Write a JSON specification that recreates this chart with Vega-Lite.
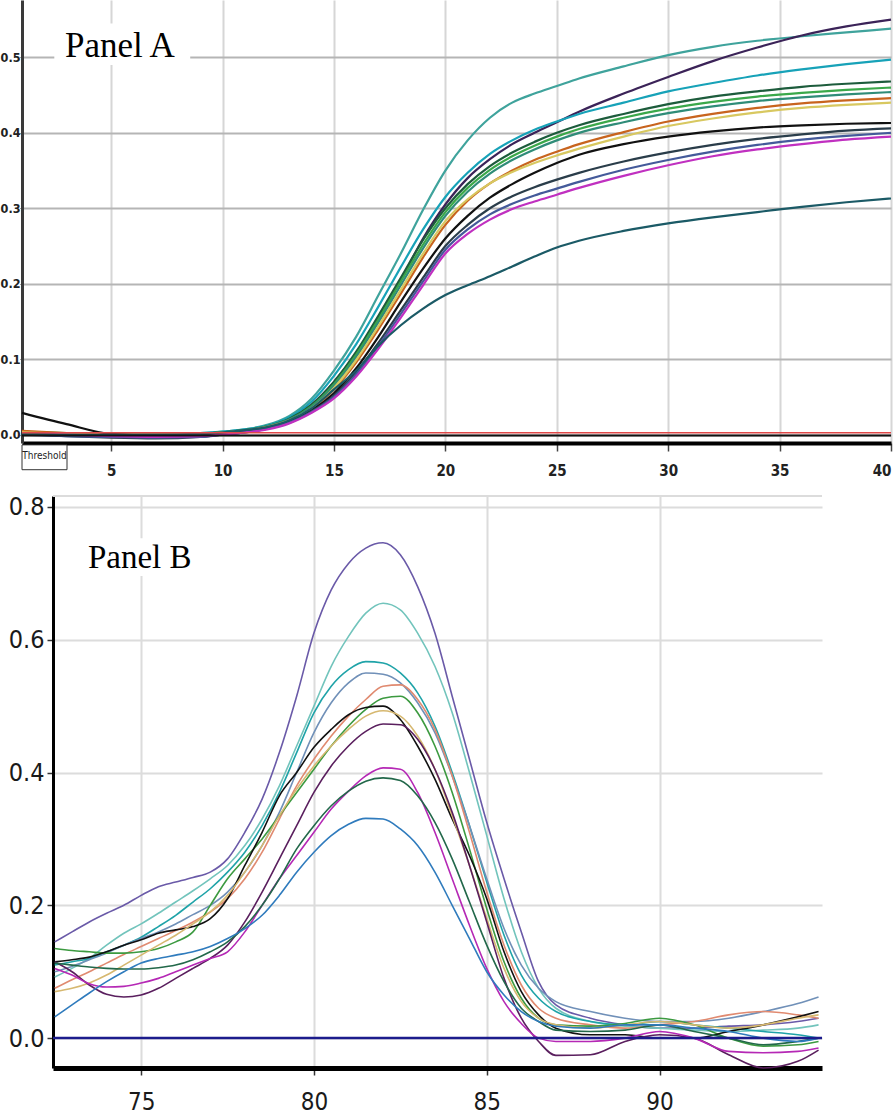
{
"$schema": "https://vega.github.io/schema/vega-lite/v6.json",
"width": 896,
"height": 1117,
"autosize": {"type": "none"},
"padding": 0,
"background": "white",
"config": {"view": {"stroke": null}},
"datasets": {
"one": [{}],
"a": [
{"s":"a1","c":1,"v":0.002},{"s":"a1","c":3,"v":0.001},{"s":"a1","c":5,"v":0},{"s":"a1","c":7,"v":0},{"s":"a1","c":9,"v":0.002},{"s":"a1","c":10,"v":0.004},{"s":"a1","c":11,"v":0.007},{"s":"a1","c":12,"v":0.013},{"s":"a1","c":13,"v":0.025},{"s":"a1","c":14,"v":0.048},{"s":"a1","c":15,"v":0.085},{"s":"a1","c":16,"v":0.13},{"s":"a1","c":17,"v":0.185},{"s":"a1","c":18,"v":0.24},{"s":"a1","c":19,"v":0.298},{"s":"a1","c":20,"v":0.35},{"s":"a1","c":21,"v":0.39},{"s":"a1","c":22,"v":0.42},{"s":"a1","c":23,"v":0.44},{"s":"a1","c":24,"v":0.452},{"s":"a1","c":25,"v":0.462},{"s":"a1","c":26,"v":0.472},{"s":"a1","c":28,"v":0.488},{"s":"a1","c":30,"v":0.503},{"s":"a1","c":32,"v":0.514},{"s":"a1","c":34,"v":0.522},{"s":"a1","c":36,"v":0.528},{"s":"a1","c":38,"v":0.533},{"s":"a1","c":40,"v":0.538},
{"s":"a2","c":1,"v":0},{"s":"a2","c":3,"v":0},{"s":"a2","c":5,"v":-0.002},{"s":"a2","c":7,"v":-0.002},{"s":"a2","c":9,"v":0},{"s":"a2","c":10,"v":0.002},{"s":"a2","c":11,"v":0.005},{"s":"a2","c":12,"v":0.01},{"s":"a2","c":13,"v":0.02},{"s":"a2","c":14,"v":0.04},{"s":"a2","c":15,"v":0.07},{"s":"a2","c":16,"v":0.108},{"s":"a2","c":17,"v":0.155},{"s":"a2","c":18,"v":0.205},{"s":"a2","c":19,"v":0.26},{"s":"a2","c":20,"v":0.305},{"s":"a2","c":21,"v":0.34},{"s":"a2","c":22,"v":0.365},{"s":"a2","c":23,"v":0.385},{"s":"a2","c":24,"v":0.4},{"s":"a2","c":25,"v":0.414},{"s":"a2","c":26,"v":0.428},{"s":"a2","c":28,"v":0.452},{"s":"a2","c":30,"v":0.474},{"s":"a2","c":32,"v":0.495},{"s":"a2","c":34,"v":0.513},{"s":"a2","c":36,"v":0.529},{"s":"a2","c":38,"v":0.541},{"s":"a2","c":40,"v":0.55},
{"s":"a3","c":1,"v":0.001},{"s":"a3","c":3,"v":0},{"s":"a3","c":5,"v":0},{"s":"a3","c":7,"v":0.001},{"s":"a3","c":9,"v":0.002},{"s":"a3","c":10,"v":0.004},{"s":"a3","c":11,"v":0.007},{"s":"a3","c":12,"v":0.012},{"s":"a3","c":13,"v":0.023},{"s":"a3","c":14,"v":0.044},{"s":"a3","c":15,"v":0.078},{"s":"a3","c":16,"v":0.12},{"s":"a3","c":17,"v":0.17},{"s":"a3","c":18,"v":0.222},{"s":"a3","c":19,"v":0.272},{"s":"a3","c":20,"v":0.315},{"s":"a3","c":21,"v":0.347},{"s":"a3","c":22,"v":0.372},{"s":"a3","c":23,"v":0.39},{"s":"a3","c":24,"v":0.404},{"s":"a3","c":25,"v":0.415},{"s":"a3","c":26,"v":0.425},{"s":"a3","c":28,"v":0.44},{"s":"a3","c":30,"v":0.455},{"s":"a3","c":32,"v":0.466},{"s":"a3","c":34,"v":0.476},{"s":"a3","c":36,"v":0.484},{"s":"a3","c":38,"v":0.491},{"s":"a3","c":40,"v":0.497},
{"s":"a4","c":1,"v":0.003},{"s":"a4","c":3,"v":0.001},{"s":"a4","c":5,"v":0},{"s":"a4","c":7,"v":-0.001},{"s":"a4","c":9,"v":0.001},{"s":"a4","c":10,"v":0.003},{"s":"a4","c":11,"v":0.006},{"s":"a4","c":12,"v":0.011},{"s":"a4","c":13,"v":0.021},{"s":"a4","c":14,"v":0.04},{"s":"a4","c":15,"v":0.07},{"s":"a4","c":16,"v":0.11},{"s":"a4","c":17,"v":0.158},{"s":"a4","c":18,"v":0.208},{"s":"a4","c":19,"v":0.258},{"s":"a4","c":20,"v":0.3},{"s":"a4","c":21,"v":0.332},{"s":"a4","c":22,"v":0.356},{"s":"a4","c":23,"v":0.374},{"s":"a4","c":24,"v":0.388},{"s":"a4","c":25,"v":0.4},{"s":"a4","c":26,"v":0.41},{"s":"a4","c":28,"v":0.425},{"s":"a4","c":30,"v":0.438},{"s":"a4","c":32,"v":0.448},{"s":"a4","c":34,"v":0.455},{"s":"a4","c":36,"v":0.461},{"s":"a4","c":38,"v":0.465},{"s":"a4","c":40,"v":0.468},
{"s":"a5","c":1,"v":0.004},{"s":"a5","c":3,"v":0.002},{"s":"a5","c":5,"v":0},{"s":"a5","c":7,"v":0},{"s":"a5","c":9,"v":0.001},{"s":"a5","c":10,"v":0.003},{"s":"a5","c":11,"v":0.006},{"s":"a5","c":12,"v":0.011},{"s":"a5","c":13,"v":0.02},{"s":"a5","c":14,"v":0.038},{"s":"a5","c":15,"v":0.067},{"s":"a5","c":16,"v":0.106},{"s":"a5","c":17,"v":0.153},{"s":"a5","c":18,"v":0.203},{"s":"a5","c":19,"v":0.252},{"s":"a5","c":20,"v":0.295},{"s":"a5","c":21,"v":0.327},{"s":"a5","c":22,"v":0.351},{"s":"a5","c":23,"v":0.369},{"s":"a5","c":24,"v":0.383},{"s":"a5","c":25,"v":0.395},{"s":"a5","c":26,"v":0.405},{"s":"a5","c":28,"v":0.42},{"s":"a5","c":30,"v":0.432},{"s":"a5","c":32,"v":0.441},{"s":"a5","c":34,"v":0.448},{"s":"a5","c":36,"v":0.453},{"s":"a5","c":38,"v":0.457},{"s":"a5","c":40,"v":0.46},
{"s":"a6","c":1,"v":0.002},{"s":"a6","c":3,"v":0.001},{"s":"a6","c":5,"v":-0.001},{"s":"a6","c":7,"v":-0.001},{"s":"a6","c":9,"v":0.001},{"s":"a6","c":10,"v":0.003},{"s":"a6","c":11,"v":0.006},{"s":"a6","c":12,"v":0.011},{"s":"a6","c":13,"v":0.02},{"s":"a6","c":14,"v":0.037},{"s":"a6","c":15,"v":0.065},{"s":"a6","c":16,"v":0.103},{"s":"a6","c":17,"v":0.149},{"s":"a6","c":18,"v":0.198},{"s":"a6","c":19,"v":0.247},{"s":"a6","c":20,"v":0.29},{"s":"a6","c":21,"v":0.322},{"s":"a6","c":22,"v":0.346},{"s":"a6","c":23,"v":0.364},{"s":"a6","c":24,"v":0.378},{"s":"a6","c":25,"v":0.39},{"s":"a6","c":26,"v":0.4},{"s":"a6","c":28,"v":0.414},{"s":"a6","c":30,"v":0.426},{"s":"a6","c":32,"v":0.435},{"s":"a6","c":34,"v":0.442},{"s":"a6","c":36,"v":0.447},{"s":"a6","c":38,"v":0.451},{"s":"a6","c":40,"v":0.454},
{"s":"a7","c":1,"v":0.005},{"s":"a7","c":3,"v":0.002},{"s":"a7","c":5,"v":0},{"s":"a7","c":7,"v":-0.001},{"s":"a7","c":9,"v":0},{"s":"a7","c":10,"v":0.002},{"s":"a7","c":11,"v":0.005},{"s":"a7","c":12,"v":0.01},{"s":"a7","c":13,"v":0.018},{"s":"a7","c":14,"v":0.034},{"s":"a7","c":15,"v":0.06},{"s":"a7","c":16,"v":0.096},{"s":"a7","c":17,"v":0.14},{"s":"a7","c":18,"v":0.187},{"s":"a7","c":19,"v":0.235},{"s":"a7","c":20,"v":0.278},{"s":"a7","c":21,"v":0.31},{"s":"a7","c":22,"v":0.333},{"s":"a7","c":23,"v":0.35},{"s":"a7","c":24,"v":0.364},{"s":"a7","c":25,"v":0.375},{"s":"a7","c":26,"v":0.385},{"s":"a7","c":28,"v":0.401},{"s":"a7","c":30,"v":0.415},{"s":"a7","c":32,"v":0.425},{"s":"a7","c":34,"v":0.433},{"s":"a7","c":36,"v":0.439},{"s":"a7","c":38,"v":0.443},{"s":"a7","c":40,"v":0.446},
{"s":"a8","c":1,"v":0.003},{"s":"a8","c":3,"v":0.001},{"s":"a8","c":5,"v":0},{"s":"a8","c":7,"v":0},{"s":"a8","c":9,"v":0.001},{"s":"a8","c":10,"v":0.003},{"s":"a8","c":11,"v":0.005},{"s":"a8","c":12,"v":0.01},{"s":"a8","c":13,"v":0.019},{"s":"a8","c":14,"v":0.035},{"s":"a8","c":15,"v":0.062},{"s":"a8","c":16,"v":0.099},{"s":"a8","c":17,"v":0.144},{"s":"a8","c":18,"v":0.192},{"s":"a8","c":19,"v":0.24},{"s":"a8","c":20,"v":0.283},{"s":"a8","c":21,"v":0.312},{"s":"a8","c":22,"v":0.333},{"s":"a8","c":23,"v":0.348},{"s":"a8","c":24,"v":0.36},{"s":"a8","c":25,"v":0.37},{"s":"a8","c":26,"v":0.379},{"s":"a8","c":28,"v":0.395},{"s":"a8","c":30,"v":0.409},{"s":"a8","c":32,"v":0.419},{"s":"a8","c":34,"v":0.427},{"s":"a8","c":36,"v":0.433},{"s":"a8","c":38,"v":0.437},{"s":"a8","c":40,"v":0.44},
{"s":"a9","c":1,"v":0.029},{"s":"a9","c":3,"v":0.014},{"s":"a9","c":5,"v":0.001},{"s":"a9","c":7,"v":-0.001},{"s":"a9","c":9,"v":0},{"s":"a9","c":10,"v":0.002},{"s":"a9","c":11,"v":0.004},{"s":"a9","c":12,"v":0.008},{"s":"a9","c":13,"v":0.017},{"s":"a9","c":14,"v":0.032},{"s":"a9","c":15,"v":0.055},{"s":"a9","c":16,"v":0.088},{"s":"a9","c":17,"v":0.13},{"s":"a9","c":18,"v":0.176},{"s":"a9","c":19,"v":0.22},{"s":"a9","c":20,"v":0.26},{"s":"a9","c":21,"v":0.29},{"s":"a9","c":22,"v":0.314},{"s":"a9","c":23,"v":0.332},{"s":"a9","c":24,"v":0.347},{"s":"a9","c":25,"v":0.36},{"s":"a9","c":26,"v":0.371},{"s":"a9","c":28,"v":0.385},{"s":"a9","c":30,"v":0.395},{"s":"a9","c":32,"v":0.402},{"s":"a9","c":34,"v":0.407},{"s":"a9","c":36,"v":0.41},{"s":"a9","c":38,"v":0.412},{"s":"a9","c":40,"v":0.413},
{"s":"a10","c":1,"v":0.001},{"s":"a10","c":3,"v":-0.002},{"s":"a10","c":5,"v":-0.004},{"s":"a10","c":7,"v":-0.005},{"s":"a10","c":9,"v":-0.003},{"s":"a10","c":10,"v":0},{"s":"a10","c":11,"v":0.003},{"s":"a10","c":12,"v":0.008},{"s":"a10","c":13,"v":0.016},{"s":"a10","c":14,"v":0.031},{"s":"a10","c":15,"v":0.052},{"s":"a10","c":16,"v":0.083},{"s":"a10","c":17,"v":0.122},{"s":"a10","c":18,"v":0.165},{"s":"a10","c":19,"v":0.208},{"s":"a10","c":20,"v":0.25},{"s":"a10","c":21,"v":0.278},{"s":"a10","c":22,"v":0.3},{"s":"a10","c":23,"v":0.316},{"s":"a10","c":24,"v":0.328},{"s":"a10","c":25,"v":0.338},{"s":"a10","c":26,"v":0.347},{"s":"a10","c":28,"v":0.362},{"s":"a10","c":30,"v":0.374},{"s":"a10","c":32,"v":0.384},{"s":"a10","c":34,"v":0.392},{"s":"a10","c":36,"v":0.398},{"s":"a10","c":38,"v":0.403},{"s":"a10","c":40,"v":0.406},
{"s":"a11","c":1,"v":0},{"s":"a11","c":3,"v":-0.002},{"s":"a11","c":5,"v":-0.003},{"s":"a11","c":7,"v":-0.004},{"s":"a11","c":9,"v":-0.003},{"s":"a11","c":10,"v":0},{"s":"a11","c":11,"v":0.003},{"s":"a11","c":12,"v":0.008},{"s":"a11","c":13,"v":0.016},{"s":"a11","c":14,"v":0.03},{"s":"a11","c":15,"v":0.05},{"s":"a11","c":16,"v":0.08},{"s":"a11","c":17,"v":0.118},{"s":"a11","c":18,"v":0.16},{"s":"a11","c":19,"v":0.203},{"s":"a11","c":20,"v":0.245},{"s":"a11","c":21,"v":0.272},{"s":"a11","c":22,"v":0.292},{"s":"a11","c":23,"v":0.306},{"s":"a11","c":24,"v":0.317},{"s":"a11","c":25,"v":0.326},{"s":"a11","c":26,"v":0.335},{"s":"a11","c":28,"v":0.351},{"s":"a11","c":30,"v":0.364},{"s":"a11","c":32,"v":0.375},{"s":"a11","c":34,"v":0.384},{"s":"a11","c":36,"v":0.391},{"s":"a11","c":38,"v":0.396},{"s":"a11","c":40,"v":0.4},
{"s":"a12","c":1,"v":0.002},{"s":"a12","c":3,"v":0},{"s":"a12","c":5,"v":-0.002},{"s":"a12","c":7,"v":-0.003},{"s":"a12","c":9,"v":-0.002},{"s":"a12","c":10,"v":0},{"s":"a12","c":11,"v":0.003},{"s":"a12","c":12,"v":0.007},{"s":"a12","c":13,"v":0.015},{"s":"a12","c":14,"v":0.029},{"s":"a12","c":15,"v":0.048},{"s":"a12","c":16,"v":0.077},{"s":"a12","c":17,"v":0.114},{"s":"a12","c":18,"v":0.155},{"s":"a12","c":19,"v":0.198},{"s":"a12","c":20,"v":0.24},{"s":"a12","c":21,"v":0.266},{"s":"a12","c":22,"v":0.285},{"s":"a12","c":23,"v":0.299},{"s":"a12","c":24,"v":0.309},{"s":"a12","c":25,"v":0.318},{"s":"a12","c":26,"v":0.327},{"s":"a12","c":28,"v":0.343},{"s":"a12","c":30,"v":0.357},{"s":"a12","c":32,"v":0.369},{"s":"a12","c":34,"v":0.378},{"s":"a12","c":36,"v":0.385},{"s":"a12","c":38,"v":0.391},{"s":"a12","c":40,"v":0.395},
{"s":"a13","c":1,"v":0.001},{"s":"a13","c":3,"v":0},{"s":"a13","c":5,"v":0},{"s":"a13","c":7,"v":0},{"s":"a13","c":9,"v":0.001},{"s":"a13","c":10,"v":0.003},{"s":"a13","c":11,"v":0.006},{"s":"a13","c":12,"v":0.01},{"s":"a13","c":13,"v":0.019},{"s":"a13","c":14,"v":0.035},{"s":"a13","c":15,"v":0.06},{"s":"a13","c":16,"v":0.085},{"s":"a13","c":17,"v":0.118},{"s":"a13","c":18,"v":0.145},{"s":"a13","c":19,"v":0.167},{"s":"a13","c":20,"v":0.185},{"s":"a13","c":21,"v":0.198},{"s":"a13","c":22,"v":0.21},{"s":"a13","c":23,"v":0.223},{"s":"a13","c":24,"v":0.236},{"s":"a13","c":25,"v":0.248},{"s":"a13","c":26,"v":0.257},{"s":"a13","c":28,"v":0.27},{"s":"a13","c":30,"v":0.28},{"s":"a13","c":32,"v":0.288},{"s":"a13","c":34,"v":0.295},{"s":"a13","c":36,"v":0.302},{"s":"a13","c":38,"v":0.308},{"s":"a13","c":40,"v":0.313}
],
"b": [
{"s":"b1","t":72.5,"v":0.145},{"s":"b1","t":73,"v":0.16},{"s":"b1","t":73.5,"v":0.175},{"s":"b1","t":74,"v":0.188},{"s":"b1","t":74.5,"v":0.2},{"s":"b1","t":75,"v":0.215},{"s":"b1","t":75.5,"v":0.228},{"s":"b1","t":76,"v":0.235},{"s":"b1","t":76.5,"v":0.242},{"s":"b1","t":77,"v":0.25},{"s":"b1","t":77.5,"v":0.27},{"s":"b1","t":78,"v":0.31},{"s":"b1","t":78.5,"v":0.36},{"s":"b1","t":79,"v":0.43},{"s":"b1","t":79.5,"v":0.515},{"s":"b1","t":80,"v":0.61},{"s":"b1","t":80.5,"v":0.675},{"s":"b1","t":81,"v":0.715},{"s":"b1","t":81.5,"v":0.738},{"s":"b1","t":82,"v":0.746},{"s":"b1","t":82.5,"v":0.728},{"s":"b1","t":83,"v":0.68},{"s":"b1","t":83.5,"v":0.61},{"s":"b1","t":84,"v":0.515},{"s":"b1","t":84.5,"v":0.42},{"s":"b1","t":85,"v":0.325},{"s":"b1","t":85.5,"v":0.24},{"s":"b1","t":86,"v":0.16},{"s":"b1","t":86.5,"v":0.085},{"s":"b1","t":87,"v":0.05},{"s":"b1","t":88,"v":0.03},{"s":"b1","t":89,"v":0.02},{"s":"b1","t":90,"v":0.015},{"s":"b1","t":91,"v":0.015},{"s":"b1","t":92,"v":0.018},{"s":"b1","t":93,"v":0.02},{"s":"b1","t":94,"v":0.025},{"s":"b1","t":94.6,"v":0.03},
{"s":"b2","t":72.5,"v":0.092},{"s":"b2","t":73,"v":0.105},{"s":"b2","t":73.5,"v":0.12},{"s":"b2","t":74,"v":0.14},{"s":"b2","t":74.5,"v":0.158},{"s":"b2","t":75,"v":0.172},{"s":"b2","t":75.5,"v":0.188},{"s":"b2","t":76,"v":0.205},{"s":"b2","t":76.5,"v":0.222},{"s":"b2","t":77,"v":0.24},{"s":"b2","t":77.5,"v":0.26},{"s":"b2","t":78,"v":0.29},{"s":"b2","t":78.5,"v":0.33},{"s":"b2","t":79,"v":0.38},{"s":"b2","t":79.5,"v":0.44},{"s":"b2","t":80,"v":0.5},{"s":"b2","t":80.5,"v":0.56},{"s":"b2","t":81,"v":0.605},{"s":"b2","t":81.5,"v":0.64},{"s":"b2","t":82,"v":0.655},{"s":"b2","t":82.5,"v":0.645},{"s":"b2","t":83,"v":0.61},{"s":"b2","t":83.5,"v":0.56},{"s":"b2","t":84,"v":0.49},{"s":"b2","t":84.5,"v":0.4},{"s":"b2","t":85,"v":0.305},{"s":"b2","t":85.5,"v":0.21},{"s":"b2","t":86,"v":0.13},{"s":"b2","t":86.5,"v":0.075},{"s":"b2","t":87,"v":0.045},{"s":"b2","t":88,"v":0.025},{"s":"b2","t":89,"v":0.018},{"s":"b2","t":90,"v":0.015},{"s":"b2","t":91,"v":0.012},{"s":"b2","t":92,"v":0.01},{"s":"b2","t":93,"v":0.012},{"s":"b2","t":94,"v":0.015},{"s":"b2","t":94.6,"v":0.02},
{"s":"b3","t":72.5,"v":0.11},{"s":"b3","t":73,"v":0.115},{"s":"b3","t":73.5,"v":0.12},{"s":"b3","t":74,"v":0.13},{"s":"b3","t":74.5,"v":0.14},{"s":"b3","t":75,"v":0.152},{"s":"b3","t":75.5,"v":0.168},{"s":"b3","t":76,"v":0.185},{"s":"b3","t":76.5,"v":0.205},{"s":"b3","t":77,"v":0.225},{"s":"b3","t":77.5,"v":0.25},{"s":"b3","t":78,"v":0.28},{"s":"b3","t":78.5,"v":0.32},{"s":"b3","t":79,"v":0.37},{"s":"b3","t":79.5,"v":0.43},{"s":"b3","t":80,"v":0.49},{"s":"b3","t":80.5,"v":0.53},{"s":"b3","t":81,"v":0.555},{"s":"b3","t":81.5,"v":0.567},{"s":"b3","t":82,"v":0.565},{"s":"b3","t":82.5,"v":0.55},{"s":"b3","t":83,"v":0.52},{"s":"b3","t":83.5,"v":0.47},{"s":"b3","t":84,"v":0.4},{"s":"b3","t":84.5,"v":0.32},{"s":"b3","t":85,"v":0.235},{"s":"b3","t":85.5,"v":0.155},{"s":"b3","t":86,"v":0.095},{"s":"b3","t":86.5,"v":0.06},{"s":"b3","t":87,"v":0.04},{"s":"b3","t":88,"v":0.025},{"s":"b3","t":89,"v":0.02},{"s":"b3","t":90,"v":0.025},{"s":"b3","t":91,"v":0.02},{"s":"b3","t":92,"v":0.015},{"s":"b3","t":93,"v":0.01},{"s":"b3","t":94,"v":0.005},{"s":"b3","t":94.6,"v":0},
{"s":"b4","t":72.5,"v":0.1},{"s":"b4","t":73,"v":0.108},{"s":"b4","t":73.5,"v":0.118},{"s":"b4","t":74,"v":0.128},{"s":"b4","t":74.5,"v":0.14},{"s":"b4","t":75,"v":0.15},{"s":"b4","t":75.5,"v":0.16},{"s":"b4","t":76,"v":0.172},{"s":"b4","t":76.5,"v":0.186},{"s":"b4","t":77,"v":0.2},{"s":"b4","t":77.5,"v":0.22},{"s":"b4","t":78,"v":0.25},{"s":"b4","t":78.5,"v":0.29},{"s":"b4","t":79,"v":0.34},{"s":"b4","t":79.5,"v":0.4},{"s":"b4","t":80,"v":0.46},{"s":"b4","t":80.5,"v":0.505},{"s":"b4","t":81,"v":0.535},{"s":"b4","t":81.5,"v":0.55},{"s":"b4","t":82,"v":0.548},{"s":"b4","t":82.5,"v":0.535},{"s":"b4","t":83,"v":0.505},{"s":"b4","t":83.5,"v":0.46},{"s":"b4","t":84,"v":0.395},{"s":"b4","t":84.5,"v":0.32},{"s":"b4","t":85,"v":0.24},{"s":"b4","t":85.5,"v":0.165},{"s":"b4","t":86,"v":0.11},{"s":"b4","t":86.5,"v":0.075},{"s":"b4","t":87,"v":0.055},{"s":"b4","t":88,"v":0.04},{"s":"b4","t":89,"v":0.03},{"s":"b4","t":90,"v":0.025},{"s":"b4","t":91,"v":0.025},{"s":"b4","t":92,"v":0.03},{"s":"b4","t":93,"v":0.04},{"s":"b4","t":94,"v":0.052},{"s":"b4","t":94.6,"v":0.062},
{"s":"b5","t":72.5,"v":0.075},{"s":"b5","t":73,"v":0.088},{"s":"b5","t":73.5,"v":0.1},{"s":"b5","t":74,"v":0.113},{"s":"b5","t":74.5,"v":0.126},{"s":"b5","t":75,"v":0.138},{"s":"b5","t":75.5,"v":0.15},{"s":"b5","t":76,"v":0.162},{"s":"b5","t":76.5,"v":0.175},{"s":"b5","t":77,"v":0.19},{"s":"b5","t":77.5,"v":0.21},{"s":"b5","t":78,"v":0.24},{"s":"b5","t":78.5,"v":0.28},{"s":"b5","t":79,"v":0.33},{"s":"b5","t":79.5,"v":0.38},{"s":"b5","t":80,"v":0.42},{"s":"b5","t":80.5,"v":0.455},{"s":"b5","t":81,"v":0.485},{"s":"b5","t":81.5,"v":0.51},{"s":"b5","t":82,"v":0.53},{"s":"b5","t":82.5,"v":0.532},{"s":"b5","t":83,"v":0.51},{"s":"b5","t":83.5,"v":0.465},{"s":"b5","t":84,"v":0.395},{"s":"b5","t":84.5,"v":0.31},{"s":"b5","t":85,"v":0.22},{"s":"b5","t":85.5,"v":0.14},{"s":"b5","t":86,"v":0.08},{"s":"b5","t":86.5,"v":0.045},{"s":"b5","t":87,"v":0.03},{"s":"b5","t":88,"v":0.02},{"s":"b5","t":89,"v":0.015},{"s":"b5","t":90,"v":0.02},{"s":"b5","t":91,"v":0.025},{"s":"b5","t":92,"v":0.035},{"s":"b5","t":93,"v":0.04},{"s":"b5","t":94,"v":0.035},{"s":"b5","t":94.6,"v":0.03},
{"s":"b6","t":72.5,"v":0.135},{"s":"b6","t":73,"v":0.132},{"s":"b6","t":73.5,"v":0.13},{"s":"b6","t":74,"v":0.128},{"s":"b6","t":74.5,"v":0.128},{"s":"b6","t":75,"v":0.13},{"s":"b6","t":75.5,"v":0.135},{"s":"b6","t":76,"v":0.145},{"s":"b6","t":76.5,"v":0.16},{"s":"b6","t":77,"v":0.2},{"s":"b6","t":77.5,"v":0.24},{"s":"b6","t":78,"v":0.27},{"s":"b6","t":78.5,"v":0.3},{"s":"b6","t":79,"v":0.335},{"s":"b6","t":79.5,"v":0.37},{"s":"b6","t":80,"v":0.405},{"s":"b6","t":80.5,"v":0.44},{"s":"b6","t":81,"v":0.47},{"s":"b6","t":81.5,"v":0.495},{"s":"b6","t":82,"v":0.512},{"s":"b6","t":82.5,"v":0.515},{"s":"b6","t":83,"v":0.49},{"s":"b6","t":83.5,"v":0.44},{"s":"b6","t":84,"v":0.37},{"s":"b6","t":84.5,"v":0.285},{"s":"b6","t":85,"v":0.195},{"s":"b6","t":85.5,"v":0.115},{"s":"b6","t":86,"v":0.06},{"s":"b6","t":86.5,"v":0.03},{"s":"b6","t":87,"v":0.02},{"s":"b6","t":88,"v":0.018},{"s":"b6","t":89,"v":0.022},{"s":"b6","t":90,"v":0.03},{"s":"b6","t":91,"v":0.02},{"s":"b6","t":92,"v":0},{"s":"b6","t":93,"v":-0.012},{"s":"b6","t":94,"v":-0.01},{"s":"b6","t":94.6,"v":-0.005},
{"s":"b7","t":72.5,"v":0.115},{"s":"b7","t":73,"v":0.118},{"s":"b7","t":73.5,"v":0.122},{"s":"b7","t":74,"v":0.13},{"s":"b7","t":74.5,"v":0.14},{"s":"b7","t":75,"v":0.148},{"s":"b7","t":75.5,"v":0.158},{"s":"b7","t":76,"v":0.163},{"s":"b7","t":76.5,"v":0.168},{"s":"b7","t":77,"v":0.18},{"s":"b7","t":77.5,"v":0.21},{"s":"b7","t":78,"v":0.26},{"s":"b7","t":78.5,"v":0.31},{"s":"b7","t":79,"v":0.365},{"s":"b7","t":79.5,"v":0.4},{"s":"b7","t":80,"v":0.438},{"s":"b7","t":80.5,"v":0.465},{"s":"b7","t":81,"v":0.487},{"s":"b7","t":81.5,"v":0.498},{"s":"b7","t":82,"v":0.5},{"s":"b7","t":82.5,"v":0.48},{"s":"b7","t":83,"v":0.44},{"s":"b7","t":83.5,"v":0.39},{"s":"b7","t":84,"v":0.33},{"s":"b7","t":84.5,"v":0.275},{"s":"b7","t":85,"v":0.21},{"s":"b7","t":85.5,"v":0.13},{"s":"b7","t":86,"v":0.07},{"s":"b7","t":86.5,"v":0.035},{"s":"b7","t":87,"v":0.015},{"s":"b7","t":88,"v":0.005},{"s":"b7","t":89,"v":0.005},{"s":"b7","t":90,"v":0},{"s":"b7","t":91,"v":0},{"s":"b7","t":92,"v":0.01},{"s":"b7","t":93,"v":0.02},{"s":"b7","t":94,"v":0.032},{"s":"b7","t":94.6,"v":0.04},
{"s":"b8","t":72.5,"v":0.07},{"s":"b8","t":73,"v":0.075},{"s":"b8","t":73.5,"v":0.083},{"s":"b8","t":74,"v":0.095},{"s":"b8","t":74.5,"v":0.11},{"s":"b8","t":75,"v":0.125},{"s":"b8","t":75.5,"v":0.14},{"s":"b8","t":76,"v":0.155},{"s":"b8","t":76.5,"v":0.172},{"s":"b8","t":77,"v":0.19},{"s":"b8","t":77.5,"v":0.215},{"s":"b8","t":78,"v":0.25},{"s":"b8","t":78.5,"v":0.29},{"s":"b8","t":79,"v":0.335},{"s":"b8","t":79.5,"v":0.375},{"s":"b8","t":80,"v":0.41},{"s":"b8","t":80.5,"v":0.44},{"s":"b8","t":81,"v":0.465},{"s":"b8","t":81.5,"v":0.485},{"s":"b8","t":82,"v":0.493},{"s":"b8","t":82.5,"v":0.485},{"s":"b8","t":83,"v":0.455},{"s":"b8","t":83.5,"v":0.405},{"s":"b8","t":84,"v":0.335},{"s":"b8","t":84.5,"v":0.26},{"s":"b8","t":85,"v":0.18},{"s":"b8","t":85.5,"v":0.105},{"s":"b8","t":86,"v":0.055},{"s":"b8","t":86.5,"v":0.03},{"s":"b8","t":87,"v":0.02},{"s":"b8","t":88,"v":0.015},{"s":"b8","t":89,"v":0.02},{"s":"b8","t":90,"v":0.025},{"s":"b8","t":91,"v":0.02},{"s":"b8","t":92,"v":0.015},{"s":"b8","t":93,"v":0.02},{"s":"b8","t":94,"v":0.03},{"s":"b8","t":94.6,"v":0.035},
{"s":"b9","t":72.5,"v":0.115},{"s":"b9","t":73,"v":0.1},{"s":"b9","t":73.5,"v":0.08},{"s":"b9","t":74,"v":0.066},{"s":"b9","t":74.5,"v":0.062},{"s":"b9","t":75,"v":0.065},{"s":"b9","t":75.5,"v":0.075},{"s":"b9","t":76,"v":0.09},{"s":"b9","t":76.5,"v":0.105},{"s":"b9","t":77,"v":0.12},{"s":"b9","t":77.5,"v":0.14},{"s":"b9","t":78,"v":0.175},{"s":"b9","t":78.5,"v":0.22},{"s":"b9","t":79,"v":0.27},{"s":"b9","t":79.5,"v":0.32},{"s":"b9","t":80,"v":0.37},{"s":"b9","t":80.5,"v":0.41},{"s":"b9","t":81,"v":0.44},{"s":"b9","t":81.5,"v":0.462},{"s":"b9","t":82,"v":0.473},{"s":"b9","t":82.5,"v":0.472},{"s":"b9","t":83,"v":0.45},{"s":"b9","t":83.5,"v":0.405},{"s":"b9","t":84,"v":0.34},{"s":"b9","t":84.5,"v":0.26},{"s":"b9","t":85,"v":0.175},{"s":"b9","t":85.5,"v":0.09},{"s":"b9","t":86,"v":0.03},{"s":"b9","t":86.5,"v":-0.005},{"s":"b9","t":87,"v":-0.026},{"s":"b9","t":88,"v":-0.025},{"s":"b9","t":89,"v":-0.005},{"s":"b9","t":90,"v":0.005},{"s":"b9","t":91,"v":0},{"s":"b9","t":92,"v":-0.025},{"s":"b9","t":93,"v":-0.045},{"s":"b9","t":94,"v":-0.035},{"s":"b9","t":94.6,"v":-0.018},
{"s":"b10","t":72.5,"v":0.105},{"s":"b10","t":73,"v":0.095},{"s":"b10","t":73.5,"v":0.082},{"s":"b10","t":74,"v":0.077},{"s":"b10","t":74.5,"v":0.078},{"s":"b10","t":75,"v":0.083},{"s":"b10","t":75.5,"v":0.09},{"s":"b10","t":76,"v":0.1},{"s":"b10","t":76.5,"v":0.11},{"s":"b10","t":77,"v":0.12},{"s":"b10","t":77.5,"v":0.13},{"s":"b10","t":78,"v":0.16},{"s":"b10","t":78.5,"v":0.2},{"s":"b10","t":79,"v":0.24},{"s":"b10","t":79.5,"v":0.275},{"s":"b10","t":80,"v":0.31},{"s":"b10","t":80.5,"v":0.345},{"s":"b10","t":81,"v":0.372},{"s":"b10","t":81.5,"v":0.395},{"s":"b10","t":82,"v":0.407},{"s":"b10","t":82.5,"v":0.405},{"s":"b10","t":83,"v":0.37},{"s":"b10","t":83.5,"v":0.31},{"s":"b10","t":84,"v":0.24},{"s":"b10","t":84.5,"v":0.17},{"s":"b10","t":85,"v":0.105},{"s":"b10","t":85.5,"v":0.055},{"s":"b10","t":86,"v":0.022},{"s":"b10","t":86.5,"v":0},{"s":"b10","t":87,"v":-0.005},{"s":"b10","t":88,"v":-0.005},{"s":"b10","t":89,"v":0},{"s":"b10","t":90,"v":0.01},{"s":"b10","t":91,"v":0},{"s":"b10","t":92,"v":-0.02},{"s":"b10","t":93,"v":-0.022},{"s":"b10","t":94,"v":-0.02},{"s":"b10","t":94.6,"v":-0.015},
{"s":"b11","t":72.5,"v":0.113},{"s":"b11","t":73,"v":0.11},{"s":"b11","t":73.5,"v":0.107},{"s":"b11","t":74,"v":0.105},{"s":"b11","t":74.5,"v":0.104},{"s":"b11","t":75,"v":0.104},{"s":"b11","t":75.5,"v":0.106},{"s":"b11","t":76,"v":0.11},{"s":"b11","t":76.5,"v":0.118},{"s":"b11","t":77,"v":0.13},{"s":"b11","t":77.5,"v":0.145},{"s":"b11","t":78,"v":0.168},{"s":"b11","t":78.5,"v":0.2},{"s":"b11","t":79,"v":0.24},{"s":"b11","t":79.5,"v":0.285},{"s":"b11","t":80,"v":0.32},{"s":"b11","t":80.5,"v":0.35},{"s":"b11","t":81,"v":0.372},{"s":"b11","t":81.5,"v":0.387},{"s":"b11","t":82,"v":0.392},{"s":"b11","t":82.5,"v":0.388},{"s":"b11","t":83,"v":0.365},{"s":"b11","t":83.5,"v":0.325},{"s":"b11","t":84,"v":0.27},{"s":"b11","t":84.5,"v":0.205},{"s":"b11","t":85,"v":0.14},{"s":"b11","t":85.5,"v":0.085},{"s":"b11","t":86,"v":0.045},{"s":"b11","t":86.5,"v":0.025},{"s":"b11","t":87,"v":0.012},{"s":"b11","t":88,"v":0.01},{"s":"b11","t":89,"v":0.012},{"s":"b11","t":90,"v":0.02},{"s":"b11","t":91,"v":0.01},{"s":"b11","t":92,"v":0},{"s":"b11","t":93,"v":-0.01},{"s":"b11","t":94,"v":-0.005},{"s":"b11","t":94.6,"v":0},
{"s":"b12","t":72.5,"v":0.032},{"s":"b12","t":73,"v":0.05},{"s":"b12","t":73.5,"v":0.068},{"s":"b12","t":74,"v":0.085},{"s":"b12","t":74.5,"v":0.1},{"s":"b12","t":75,"v":0.113},{"s":"b12","t":75.5,"v":0.12},{"s":"b12","t":76,"v":0.125},{"s":"b12","t":76.5,"v":0.13},{"s":"b12","t":77,"v":0.138},{"s":"b12","t":77.5,"v":0.15},{"s":"b12","t":78,"v":0.165},{"s":"b12","t":78.5,"v":0.185},{"s":"b12","t":79,"v":0.215},{"s":"b12","t":79.5,"v":0.25},{"s":"b12","t":80,"v":0.28},{"s":"b12","t":80.5,"v":0.305},{"s":"b12","t":81,"v":0.322},{"s":"b12","t":81.5,"v":0.331},{"s":"b12","t":82,"v":0.33},{"s":"b12","t":82.5,"v":0.315},{"s":"b12","t":83,"v":0.29},{"s":"b12","t":83.5,"v":0.25},{"s":"b12","t":84,"v":0.2},{"s":"b12","t":84.5,"v":0.15},{"s":"b12","t":85,"v":0.1},{"s":"b12","t":85.5,"v":0.065},{"s":"b12","t":86,"v":0.04},{"s":"b12","t":86.5,"v":0.025},{"s":"b12","t":87,"v":0.018},{"s":"b12","t":88,"v":0.015},{"s":"b12","t":89,"v":0.02},{"s":"b12","t":90,"v":0.02},{"s":"b12","t":91,"v":0.015},{"s":"b12","t":92,"v":0.01},{"s":"b12","t":93,"v":0},{"s":"b12","t":94,"v":-0.005},{"s":"b12","t":94.6,"v":0}
]
},
"layer": [
{
"layer": [
{
"data": {"name": "a"},
"mark": {"type": "line", "interpolate": "monotone", "strokeWidth": 2.2},
"encoding": {
"x": {"field": "c", "type": "quantitative", "scale": {"domain": [1, 40], "range": [22, 891], "nice": false, "zero": false},
"axis": {"orient": "top", "offset": -443, "title": null, "values": [5,10,15,20,25,30,35,40], "grid": true, "gridColor": "#d6d6d6", "gridWidth": 2, "domainColor": "#000000", "domainWidth": 4, "tickColor": "#444444", "tickSize": -8, "tickWidth": 1.5, "labelFont": "Liberation Sans Narrow, DejaVu Sans Condensed, sans-serif", "labelFontSize": 15, "labelFontWeight": "bold", "labelColor": "#222222", "labelPadding": -12, "labelBaseline": "top"}},
"y": {"field": "v", "type": "quantitative", "scale": {"domain": [-0.011, 0.576], "range": [443, 0], "nice": false, "zero": false},
"axis": {"orient": "left", "offset": -22, "title": null, "values": [0,0.1,0.2,0.3,0.4,0.5], "format": ".1f", "grid": true, "gridColor": "#b5b5b5", "gridWidth": 2, "domainColor": "#3a3a3a", "domainWidth": 3, "tickColor": "#444444", "tickSize": 2, "labelFont": "Liberation Sans Narrow, DejaVu Sans Condensed, sans-serif", "labelFontSize": 12.5, "labelFontWeight": "bold", "labelColor": "#222222", "labelPadding": 0}},
"color": {"field": "s", "type": "nominal", "legend": null,
"scale": {"domain": ["a1","a2","a3","a4","a5","a6","a7","a8","a9","a10","a11","a12","a13"],
"range": ["#3fa39c","#3b2358","#17a2b8","#1d5c3c","#3aa84a","#2f8c78","#c8641e","#d8c860","#111111","#2a3d4a","#445a9a","#c030c0","#1b5a66"]}}
}
},
{
"data": {"name": "one"},
"mark": {"type": "rect", "fill": "white"},
"encoding": {
"x": {"datum": 2.45, "type": "quantitative"},
"x2": {"datum": 8.55},
"y": {"datum": 0.49, "type": "quantitative"},
"y2": {"datum": 0.545}
}
},
{
"data": {"name": "one"},
"mark": {"type": "text", "text": "Panel A", "font": "Liberation Serif", "fontSize": 35, "align": "left", "baseline": "alphabetic", "color": "#000000"},
"encoding": {
"x": {"datum": 2.93, "type": "quantitative"},
"y": {"datum": 0.5, "type": "quantitative"}
}
},
{
"data": {"name": "one"},
"mark": {"type": "rule", "color": "#111111", "strokeWidth": 2},
"encoding": {
"x": {"datum": 1, "type": "quantitative"},
"x2": {"datum": 40},
"y": {"datum": -0.001, "type": "quantitative"}
}
},
{
"data": {"name": "one"},
"mark": {"type": "rule", "color": "#e04848", "strokeWidth": 1.5},
"encoding": {
"x": {"datum": 1, "type": "quantitative"},
"x2": {"datum": 40},
"y": {"datum": 0.0025, "type": "quantitative"}
}
},
{
"data": {"name": "one"},
"mark": {"type": "rect", "fill": "white", "stroke": "#333333", "strokeWidth": 1},
"encoding": {
"x": {"datum": 1, "type": "quantitative"},
"x2": {"datum": 3.02},
"y": {"datum": -0.0135, "type": "quantitative"},
"y2": {"datum": -0.0464}
}
},
{
"data": {"name": "one"},
"mark": {"type": "text", "text": "Threshold", "font": "Liberation Sans Narrow, DejaVu Sans Condensed, sans-serif", "fontSize": 10, "align": "center", "baseline": "middle", "color": "#222222"},
"encoding": {
"x": {"datum": 2.01, "type": "quantitative"},
"y": {"datum": -0.028, "type": "quantitative"}
}
}
]
},
{
"layer": [
{
"data": {"name": "b"},
"mark": {"type": "line", "interpolate": "monotone", "strokeWidth": 1.6},
"encoding": {
"x": {"field": "t", "type": "quantitative", "scale": {"domain": [72.45, 94.7], "range": [53, 822], "nice": false, "zero": false},
"axis": {"orient": "top", "offset": -1068, "title": null, "values": [75,80,85,90], "grid": true, "gridColor": "#dcdcdc", "gridWidth": 2, "domainColor": "#000000", "domainWidth": 5, "tickColor": "#333333", "tickSize": -7, "tickWidth": 1.5, "labelFont": "Liberation Sans Narrow, DejaVu Sans Condensed, sans-serif", "labelFontSize": 24, "labelColor": "#1a1a1a", "labelPadding": -15, "labelBaseline": "top"}},
"y": {"field": "v", "type": "quantitative", "scale": {"domain": [-0.045, 0.8165], "range": [1068, 496], "nice": false, "zero": false},
"axis": {"orient": "left", "offset": -53, "title": null, "values": [0,0.2,0.4,0.6,0.8], "format": ".1f", "grid": true, "gridColor": "#dcdcdc", "gridWidth": 2, "domainColor": "#000000", "domainWidth": 3, "tickColor": "#333333", "tickSize": 6, "tickWidth": 1.5, "labelFont": "Liberation Sans Narrow, DejaVu Sans Condensed, sans-serif", "labelFontSize": 25, "labelColor": "#1a1a1a", "labelPadding": 3}},
"color": {"field": "s", "type": "nominal", "legend": null,
"scale": {"domain": ["b1","b2","b3","b4","b5","b6","b7","b8","b9","b10","b11","b12"],
"range": ["#6a5aa8","#72c4bc","#1fa3a8","#7090b8","#e08a70","#3c9a40","#111111","#d6b870","#5a1f5e","#b528b5","#22684a","#2f7bbd"]}}
}
},
{
"data": {"name": "one"},
"mark": {"type": "rule", "color": "#dcdcdc", "strokeWidth": 2},
"encoding": {
"x": {"datum": 72.45, "type": "quantitative"},
"x2": {"datum": 94.7},
"y": {"datum": 0.8165, "type": "quantitative"}
}
},
{
"data": {"name": "one"},
"mark": {"type": "rule", "color": "#1c1c8c", "strokeWidth": 2.5},
"encoding": {
"x": {"datum": 72.45, "type": "quantitative"},
"x2": {"datum": 94.7},
"y": {"datum": 0, "type": "quantitative"}
}
},
{
"data": {"name": "one"},
"mark": {"type": "rect", "fill": "white"},
"encoding": {
"x": {"datum": 73.38, "type": "quantitative"},
"x2": {"datum": 76.7},
"y": {"datum": 0.696, "type": "quantitative"},
"y2": {"datum": 0.753}
}
},
{
"data": {"name": "one"},
"mark": {"type": "text", "text": "Panel B", "font": "Liberation Serif", "fontSize": 33, "align": "left", "baseline": "alphabetic", "color": "#000000"},
"encoding": {
"x": {"datum": 73.46, "type": "quantitative"},
"y": {"datum": 0.708, "type": "quantitative"}
}
}
]
}
],
"resolve": {"scale": {"x": "independent", "y": "independent", "color": "independent"}, "axis": {"x": "independent", "y": "independent"}}
}
